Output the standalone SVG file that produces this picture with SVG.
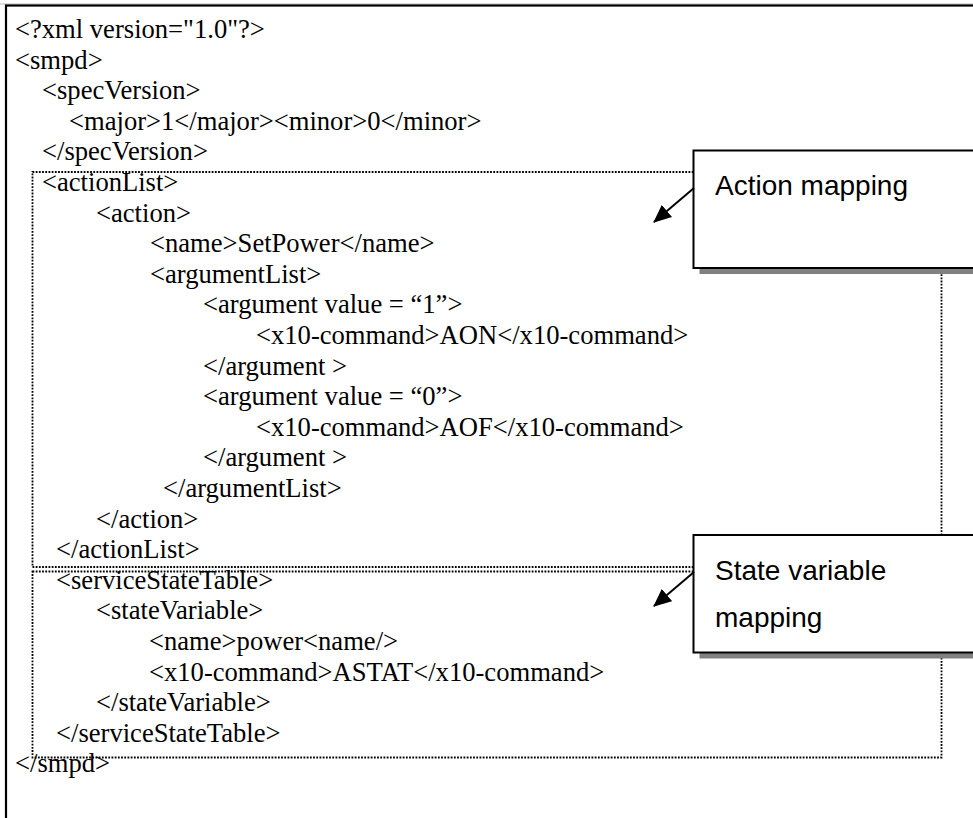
<svg xmlns="http://www.w3.org/2000/svg" width="973" height="818" viewBox="0 0 973 818">
  <style>
    .code { font-family: "Liberation Serif", "Times New Roman", serif; font-size: 26.6px; fill: #000; }
    .label { font-family: "Liberation Sans", Arial, sans-serif; font-size: 28px; fill: #000; }
    .region { fill: none; stroke: #000; stroke-width: 1.8; stroke-dasharray: 1.8 1.4; }
    .callout { fill: #fff; stroke: #000; stroke-width: 2; }
    .shadow { fill: #808080; }
    .arrow { stroke: #000; stroke-width: 2; fill: none; marker-end: url(#head); }
  </style>
  <defs>
    <marker id="head" markerUnits="userSpaceOnUse" markerWidth="19" markerHeight="16" refX="17" refY="8" orient="auto">
      <path d="M0,0 L18,8 L0,16 Z" fill="#000"/>
    </marker>
  </defs>

  <rect width="973" height="818" fill="#fff"/>

  <!-- page frame -->
  <g id="frame">
    <line x1="0" y1="4" x2="973" y2="4" stroke="#bbb" stroke-width="1"/>
    <rect x="6" y="5.5" width="1000" height="900" fill="none" stroke="#000" stroke-width="2.2"/>
  </g>

  <!-- dotted regions around the two mapping sections -->
  <g id="action-region">
    <rect class="region" x="32.5" y="172" width="909" height="395"/>
  </g>
  <g id="state-region">
    <rect class="region" x="32.5" y="571.5" width="909" height="186"/>
  </g>

  <!-- XML listing -->
  <g id="listing" class="code">
    <text x="15" y="38">&lt;?xml version="1.0"?&gt;</text>
    <text x="15" y="68.6">&lt;smpd&gt;</text>
    <text x="42" y="99.2">&lt;specVersion&gt;</text>
    <text x="69" y="129.8">&lt;major&gt;1&lt;/major&gt;&lt;minor&gt;0&lt;/minor&gt;</text>
    <text x="42" y="160.4">&lt;/specVersion&gt;</text>
    <text x="42" y="191">&lt;actionList&gt;</text>
    <text x="96" y="221.6">&lt;action&gt;</text>
    <text x="150" y="252.2">&lt;name&gt;SetPower&lt;/name&gt;</text>
    <text x="150" y="282.8">&lt;argumentList&gt;</text>
    <text x="203" y="313.4">&lt;argument value = “1”&gt;</text>
    <text x="256" y="344">&lt;x10-command&gt;AON&lt;/x10-command&gt;</text>
    <text x="203" y="374.6">&lt;/argument &gt;</text>
    <text x="203" y="405.2">&lt;argument value = “0”&gt;</text>
    <text x="256" y="435.8">&lt;x10-command&gt;AOF&lt;/x10-command&gt;</text>
    <text x="203" y="466.4">&lt;/argument &gt;</text>
    <text x="163" y="497">&lt;/argumentList&gt;</text>
    <text x="96" y="527.6">&lt;/action&gt;</text>
    <text x="56" y="558.2">&lt;/actionList&gt;</text>
    <text x="56" y="588.8">&lt;serviceStateTable&gt;</text>
    <text x="96" y="619.4">&lt;stateVariable&gt;</text>
    <text x="149" y="650">&lt;name&gt;power&lt;name/&gt;</text>
    <text x="149" y="680.6">&lt;x10-command&gt;ASTAT&lt;/x10-command&gt;</text>
    <text x="96" y="711.2">&lt;/stateVariable&gt;</text>
    <text x="56" y="741.8">&lt;/serviceStateTable&gt;</text>
    <text x="15" y="772.4">&lt;/smpd&gt;</text>
  </g>

  <!-- callout boxes -->
  <g id="action-callout">
    <rect class="shadow" x="699.5" y="156.5" width="300" height="117.5"/>
    <rect class="callout" x="693.5" y="150.5" width="300" height="117.5"/>
    <text class="label" x="715" y="195">Action mapping</text>
  </g>
  <g id="state-callout">
    <rect class="shadow" x="699.5" y="541" width="300" height="117.5"/>
    <rect class="callout" x="693.5" y="535" width="300" height="117.5"/>
    <text class="label" x="715" y="579.5">State variable</text>
    <text class="label" x="715" y="626.5">mapping</text>
  </g>

  <!-- connectors -->
  <g id="connectors">
    <line class="arrow" x1="694" y1="188" x2="654" y2="222"/>
    <line class="arrow" x1="694" y1="572" x2="654" y2="606"/>
  </g>
</svg>
